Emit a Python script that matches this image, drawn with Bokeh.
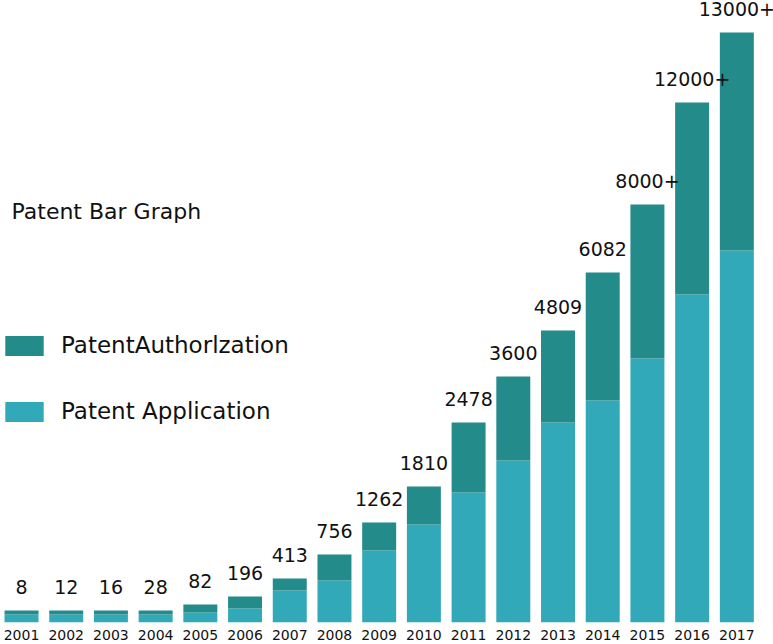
from bokeh.plotting import figure
from bokeh.models import (Range1d, FixedTicker, Legend, LegendItem, Label, ColumnDataSource)
from bokeh.core.properties import value
from bokeh.embed import file_html
from bokeh.resources import INLINE

years = ["2001", "2002", "2003", "2004", "2005", "2006", "2007", "2008", "2009",
         "2010", "2011", "2012", "2013", "2014", "2015", "2016", "2017"]
application = [8, 8, 8, 8, 10, 14, 32, 42, 72, 98, 130, 162, 200, 222, 264, 328, 372]
authorization = [4, 4, 4, 4, 8, 12, 12, 26, 28, 38, 70, 84, 92, 128, 154, 192, 218]
labels = ["8", "12", "16", "28", "82", "196", "413", "756", "1262", "1810", "2478",
          "3600", "4809", "6082", "8000+", "12000+", "13000+"]

DARK = "#238B8A"
LIGHT = "#31A9B9"
FONT = "DejaVu Sans"

idx = list(range(len(years)))
totals = [a + b for a, b in zip(application, authorization)]
src = ColumnDataSource(dict(x=idx, app=application, auth=authorization, total=totals,
                            label=labels, label_y=[t + 23.5 for t in totals]))

p = figure(frame_width=773, frame_height=622, output_backend="svg", toolbar_location=None,
           x_range=Range1d(-0.47, 16.82), y_range=Range1d(0, 622),
           min_border=0, min_border_left=0, min_border_right=0, min_border_top=0,
           min_border_bottom=0)
p.outline_line_color = None
p.xgrid.visible = False
p.ygrid.visible = False
p.yaxis.visible = False

r = p.vbar_stack(["app", "auth"], x="x", width=0.76, source=src,
                 color=[LIGHT, DARK], line_color=None)

p.text(x="x", y="label_y", text="label", source=src, text_align="center",
       text_baseline="middle", text_font=value(FONT), text_font_size="19px",
       text_color="#111111")

xa = p.xaxis[0]
xa.ticker = FixedTicker(ticks=idx)
xa.major_label_overrides = {i: y for i, y in zip(idx, years)}
xa.axis_line_color = None
xa.major_tick_line_color = None
xa.minor_tick_line_color = None
xa.major_tick_out = 0
xa.major_tick_in = 0
xa.major_label_standoff = 7
xa.major_label_text_font = FONT
xa.major_label_text_font_size = "14px"
xa.major_label_text_color = "#111111"

p.add_layout(Label(x=-0.224, y=411, text="Patent Bar Graph", text_font=FONT,
                   text_font_size="22px", text_color="#111111",
                   text_baseline="middle"))

legend = Legend(items=[LegendItem(label="PatentAuthorlzation", renderers=[r[1]]),
                       LegendItem(label="Patent Application", renderers=[r[0]])],
                location=(0, 198), orientation="vertical",
                glyph_width=48, glyph_height=25, spacing=40, padding=0, margin=0,
                label_standoff=13, label_text_font=FONT, label_text_font_size="23px",
                label_text_color="#111111", border_line_color=None,
                background_fill_alpha=0)
p.add_layout(legend)

open("out.html", "w").write(file_html(p, INLINE))
